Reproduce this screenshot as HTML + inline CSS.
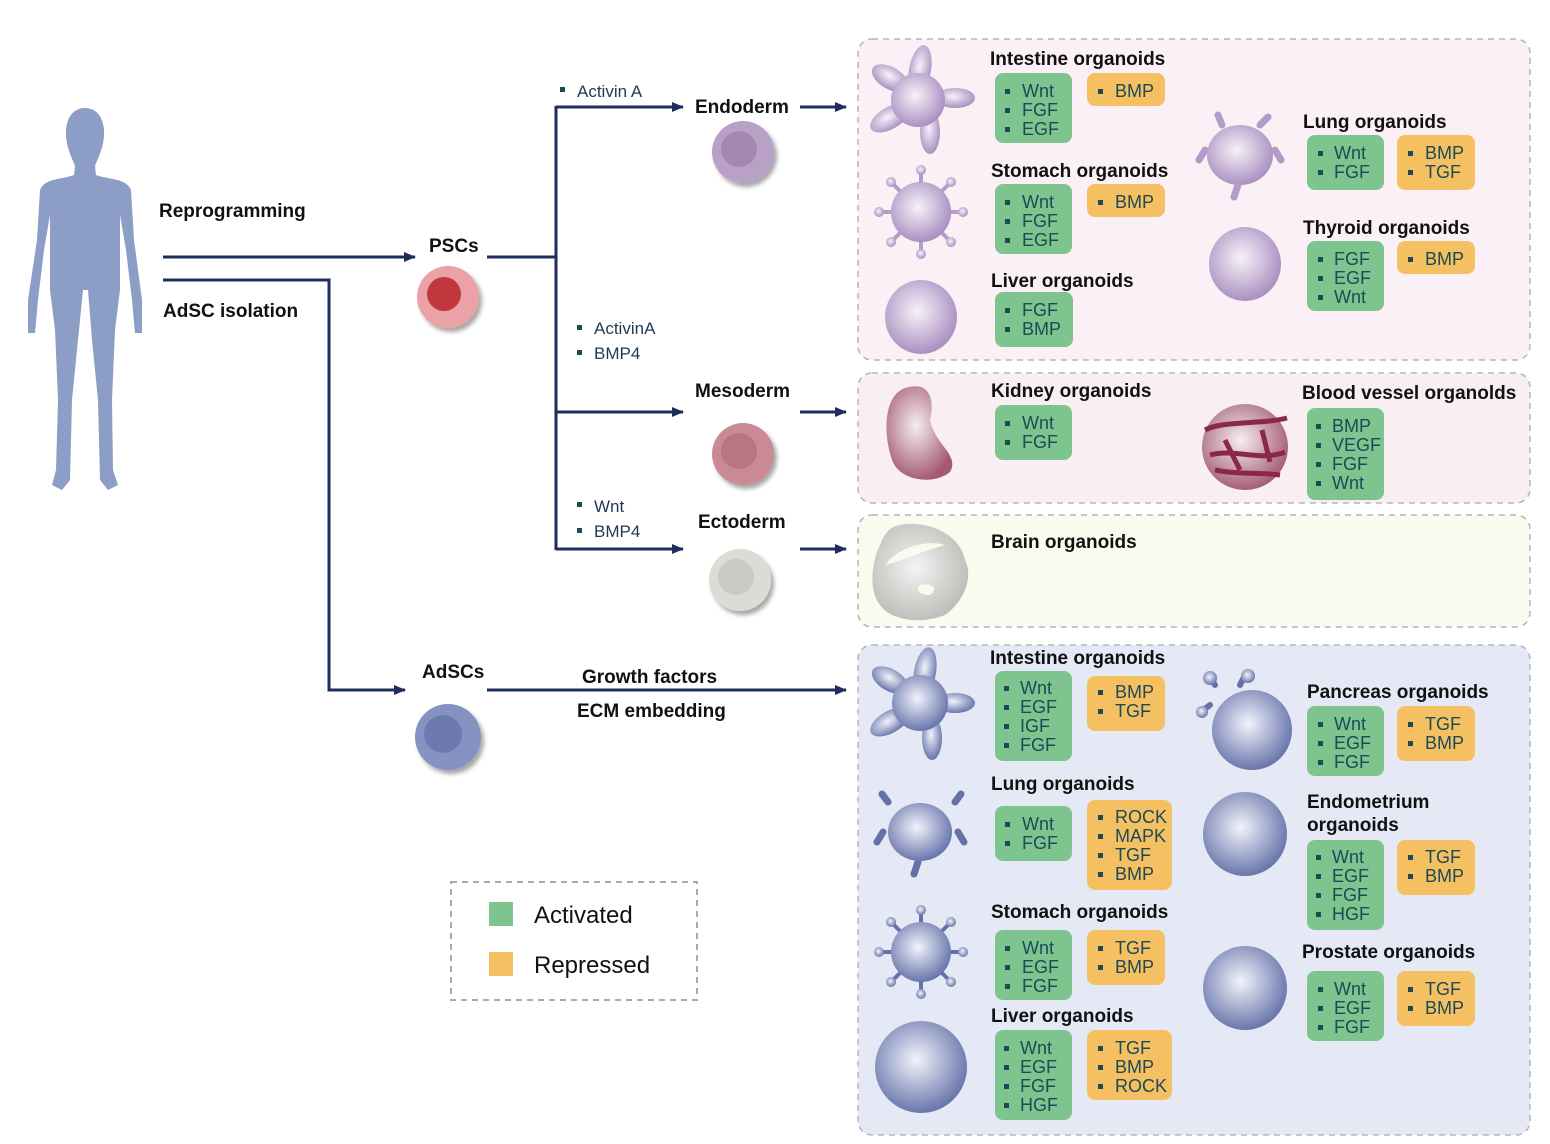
<!DOCTYPE html>
<html><head><meta charset="utf-8"><style>
html,body{margin:0;padding:0;background:#fff}
svg{display:block}
.t{font-family:"Liberation Sans",sans-serif;font-weight:bold;font-size:19px;fill:#111}
.i{font-family:"Liberation Sans",sans-serif;font-size:18px;fill:#1d4a55}
.f{font-family:"Liberation Sans",sans-serif;font-size:17px;fill:#1d3a55}
.g{fill:#7ec48f}.o{fill:#f5c062}
.sq{fill:#1d4a55}
</style></head><body>
<svg width="1550" height="1144" viewBox="0 0 1550 1144" xmlns="http://www.w3.org/2000/svg">
<defs>
<radialGradient id="pu" cx="0.45" cy="0.42" r="0.6"><stop offset="0" stop-color="#f7f2fa"/><stop offset="1" stop-color="#a88cbe"/></radialGradient>
<radialGradient id="bl" cx="0.45" cy="0.42" r="0.6"><stop offset="0" stop-color="#f2f3fb"/><stop offset="1" stop-color="#6472a8"/></radialGradient>
<radialGradient id="rd" cx="0.45" cy="0.42" r="0.6"><stop offset="0" stop-color="#f6eef0"/><stop offset="1" stop-color="#a35a72"/></radialGradient>
<radialGradient id="gr" cx="0.45" cy="0.45" r="0.6"><stop offset="0" stop-color="#f4f5f3"/><stop offset="1" stop-color="#b9bbb6"/></radialGradient>
<marker id="ar" markerWidth="12" markerHeight="10" refX="11" refY="5" orient="auto" markerUnits="userSpaceOnUse"><path d="M0,0 L12,5 L0,10 Z" fill="#1f2d5c"/></marker>
<filter id="sh"><feDropShadow dx="3" dy="4" stdDeviation="2" flood-opacity="0.35"/></filter>
</defs>

<!-- panels -->
<rect x="858" y="39" width="672" height="321" rx="14" fill="#fbf0f6" stroke="#b5b5b5" stroke-width="1.5" stroke-dasharray="6,5"/>
<rect x="858" y="373" width="672" height="130" rx="14" fill="#f9eef1" stroke="#b5b5b5" stroke-width="1.5" stroke-dasharray="6,5"/>
<rect x="858" y="515" width="672" height="112" rx="14" fill="#fbfaef" stroke="#b5b5b5" stroke-width="1.5" stroke-dasharray="6,5"/>
<rect x="858" y="645" width="672" height="490" rx="14" fill="#e5e9f5" stroke="#b5b5b5" stroke-width="1.5" stroke-dasharray="6,5"/>

<!-- human -->
<path fill="#8c9dc6" d="M85,108 C72,108 65,120 66,136 C67,150 73,160 75,166 L74,175 C60,180 45,178 40,190 L37,240 L28,300 L28,333 L35,333 L38,300 L44,250 L50,215 L50,290 L55,330 L58,400 L56,470 L52,485 L62,490 L70,480 L72,400 L78,340 L83,290 L88,290 L92,340 L98,400 L100,480 L108,490 L118,485 L113,470 L112,400 L115,330 L120,290 L120,215 L126,250 L132,300 L135,333 L142,333 L142,300 L134,240 L131,190 C126,178 110,180 96,175 L95,166 C97,160 103,150 104,136 C105,120 98,108 85,108 Z"/>

<!-- connectors -->
<g stroke="#1f2d5c" stroke-width="3" fill="none">
<line x1="163" y1="257" x2="415" y2="257" marker-end="url(#ar)"/>
<polyline points="163,280 329,280 329,690 405,690" marker-end="url(#ar)"/>
<polyline points="487,257 556,257"/>
<line x1="556" y1="106" x2="556" y2="550"/>
<line x1="556" y1="107" x2="683" y2="107" marker-end="url(#ar)"/>
<line x1="556" y1="412" x2="683" y2="412" marker-end="url(#ar)"/>
<line x1="556" y1="549" x2="683" y2="549" marker-end="url(#ar)"/>
<line x1="800" y1="107" x2="846" y2="107" marker-end="url(#ar)"/>
<line x1="800" y1="412" x2="846" y2="412" marker-end="url(#ar)"/>
<line x1="800" y1="549" x2="846" y2="549" marker-end="url(#ar)"/>
<line x1="487" y1="690" x2="846" y2="690" marker-end="url(#ar)"/>
</g>

<!-- left labels -->
<text class="t" x="159" y="217">Reprogramming</text>
<text class="t" x="163" y="317">AdSC isolation</text>
<text class="t" x="429" y="252">PSCs</text>
<text class="t" x="422" y="678">AdSCs</text>
<text class="t" x="695" y="113">Endoderm</text>
<text class="t" x="695" y="397">Mesoderm</text>
<text class="t" x="698" y="528">Ectoderm</text>
<text class="t" x="582" y="683">Growth factors</text>
<text class="t" x="577" y="717">ECM embedding</text>
<rect x="560" y="87" width="5" height="5" class="sq"/><text class="f" x="577" y="97">Activin A</text>
<rect x="577" y="325" width="5" height="5" class="sq"/><text class="f" x="594" y="334">ActivinA</text>
<rect x="577" y="350" width="5" height="5" class="sq"/><text class="f" x="594" y="359">BMP4</text>
<rect x="577" y="502" width="5" height="5" class="sq"/><text class="f" x="594" y="512">Wnt</text>
<rect x="577" y="528" width="5" height="5" class="sq"/><text class="f" x="594" y="537">BMP4</text>

<!-- stem cells -->
<g filter="url(#sh)">
<circle cx="448" cy="297" r="31" fill="#eaa2a6"/><circle cx="444" cy="294" r="17" fill="#c0383e"/>
<circle cx="743" cy="152" r="31" fill="#b9a0c6"/><circle cx="739" cy="149" r="18" fill="#a587b4"/>
<circle cx="743" cy="454" r="31" fill="#c98995"/><circle cx="739" cy="451" r="18" fill="#b87684"/>
<circle cx="740" cy="580" r="31" fill="#dcdcd6"/><circle cx="736" cy="577" r="18" fill="#cacac4"/>
<circle cx="448" cy="737" r="33" fill="#8592c2"/><circle cx="443" cy="734" r="19" fill="#6d7ab0"/>
</g>

<!-- organoid shapes pink -->
<g fill="url(#pu)">
<ellipse cx="920" cy="70" rx="11" ry="25" transform="rotate(10 920 70)"/>
<ellipse cx="955" cy="98" rx="20" ry="10"/>
<ellipse cx="930" cy="132" rx="10" ry="22"/>
<ellipse cx="890" cy="118" rx="22" ry="11" transform="rotate(-30 890 118)"/>
<ellipse cx="890" cy="78" rx="20" ry="11" transform="rotate(30 890 78)"/>
<circle cx="918" cy="100" r="27"/>
<circle cx="921" cy="212" r="30"/>
<g stroke="#b49cc8" stroke-width="4"><line x1="921" y1="170" x2="921" y2="254"/><line x1="879" y1="212" x2="963" y2="212"/><line x1="891" y1="182" x2="951" y2="242"/><line x1="951" y1="182" x2="891" y2="242"/></g>
<circle cx="921" cy="212" r="30"/>
<circle cx="921" cy="170" r="5"/><circle cx="921" cy="254" r="5"/><circle cx="879" cy="212" r="5"/><circle cx="963" cy="212" r="5"/><circle cx="891" cy="182" r="5"/><circle cx="951" cy="182" r="5"/><circle cx="891" cy="242" r="5"/><circle cx="951" cy="242" r="5"/>
<ellipse cx="921" cy="317" rx="36" ry="37"/>
<ellipse cx="1240" cy="155" rx="33" ry="30"/>
<path d="M1205,150 l-6,10 M1275,150 l6,10 M1222,125 l-4,-10 M1260,125 l8,-8 M1238,185 l-4,12" stroke="#b49cc8" stroke-width="7" stroke-linecap="round"/>
<ellipse cx="1245" cy="264" rx="36" ry="37"/>
</g>
<!-- mesoderm shapes -->
<path d="M905,388 C930,380 935,400 930,420 C935,445 960,455 950,472 C935,485 900,482 892,460 C882,430 885,395 905,388 Z" fill="url(#rd)"/>
<circle cx="1245" cy="447" r="43" fill="url(#rd)"/>
<g stroke="#8a2848" stroke-width="5" fill="none"><path d="M1205,430 C1225,420 1260,425 1287,418 M1210,455 C1235,448 1260,462 1285,452 M1225,440 L1240,470 M1262,430 L1270,462 M1215,470 C1240,475 1260,472 1280,475"/></g>
<!-- brain -->
<path d="M900,525 C930,520 960,535 965,560 C975,580 960,605 945,615 C920,625 890,620 880,605 C868,590 872,560 880,545 C885,532 890,527 900,525 Z" fill="url(#gr)"/>
<path d="M885,565 C900,545 930,540 945,545 C925,550 905,560 885,565 Z M920,585 C930,582 940,588 930,595 C920,595 915,590 920,585 Z" fill="#fbfaef"/>

<!-- blue organoids -->
<g fill="url(#bl)">
<ellipse cx="925" cy="672" rx="11" ry="25" transform="rotate(10 925 672)"/>
<ellipse cx="955" cy="703" rx="20" ry="10"/>
<ellipse cx="932" cy="738" rx="10" ry="22"/>
<ellipse cx="890" cy="722" rx="22" ry="11" transform="rotate(-30 890 722)"/>
<ellipse cx="890" cy="680" rx="20" ry="11" transform="rotate(30 890 680)"/>
<circle cx="920" cy="703" r="28"/>
<path d="M888,802 l-6,-8 M955,802 l6,-8 M883,832 l-6,10 M958,832 l6,10 M918,862 l-4,12" stroke="#6472a8" stroke-width="7" stroke-linecap="round"/>
<ellipse cx="920" cy="832" rx="32" ry="29"/>
<g stroke="#6472a8" stroke-width="4"><line x1="921" y1="910" x2="921" y2="994"/><line x1="879" y1="952" x2="963" y2="952"/><line x1="891" y1="922" x2="951" y2="982"/><line x1="951" y1="922" x2="891" y2="982"/></g>
<circle cx="921" cy="952" r="30"/>
<circle cx="921" cy="910" r="5"/><circle cx="921" cy="994" r="5"/><circle cx="879" cy="952" r="5"/><circle cx="963" cy="952" r="5"/><circle cx="891" cy="922" r="5"/><circle cx="951" cy="922" r="5"/><circle cx="891" cy="982" r="5"/><circle cx="951" cy="982" r="5"/>
<ellipse cx="921" cy="1067" rx="46" ry="46"/>
<path d="M1215,685 l-5,-8 M1240,685 l5,-10 M1210,705 l-8,6" stroke="#6472a8" stroke-width="6" stroke-linecap="round"/>
<circle cx="1210" cy="678" r="7"/><circle cx="1248" cy="676" r="7"/><circle cx="1202" cy="712" r="6"/>
<circle cx="1252" cy="730" r="40"/>
<circle cx="1245" cy="834" r="42"/>
<circle cx="1245" cy="988" r="42"/>
</g>

<!-- titles -->
<text class="t" x="990" y="65">Intestine organoids</text>
<text class="t" x="991" y="177">Stomach organoids</text>
<text class="t" x="991" y="287">Liver organoids</text>
<text class="t" x="1303" y="128">Lung organoids</text>
<text class="t" x="1303" y="234">Thyroid organoids</text>
<text class="t" x="991" y="397">Kidney organoids</text>
<text class="t" x="1302" y="399">Blood vessel organolds</text>
<text class="t" x="991" y="548">Brain organoids</text>
<text class="t" x="990" y="664">Intestine organoids</text>
<text class="t" x="1307" y="698">Pancreas organoids</text>
<text class="t" x="991" y="790">Lung organoids</text>
<text class="t" x="1307" y="808">Endometrium</text>
<text class="t" x="1307" y="831">organoids</text>
<text class="t" x="991" y="918">Stomach organoids</text>
<text class="t" x="1302" y="958">Prostate organoids</text>
<text class="t" x="991" y="1022">Liver organoids</text>

<!-- boxes -->
<g id="boxes">
<!-- pink -->
<rect class="g" x="995" y="73" width="77" height="70" rx="8"/>
<rect class="sq" x="1005" y="89" width="5" height="5"/><text class="i" x="1022" y="97">Wnt</text>
<rect class="sq" x="1005" y="108" width="5" height="5"/><text class="i" x="1022" y="116">FGF</text>
<rect class="sq" x="1005" y="127" width="5" height="5"/><text class="i" x="1022" y="135">EGF</text>
<rect class="o" x="1087" y="73" width="78" height="33" rx="8"/>
<rect class="sq" x="1098" y="89" width="5" height="5"/><text class="i" x="1115" y="97">BMP</text>

<rect class="g" x="995" y="184" width="77" height="70" rx="8"/>
<rect class="sq" x="1005" y="200" width="5" height="5"/><text class="i" x="1022" y="208">Wnt</text>
<rect class="sq" x="1005" y="219" width="5" height="5"/><text class="i" x="1022" y="227">FGF</text>
<rect class="sq" x="1005" y="238" width="5" height="5"/><text class="i" x="1022" y="246">EGF</text>
<rect class="o" x="1087" y="184" width="78" height="33" rx="8"/>
<rect class="sq" x="1098" y="200" width="5" height="5"/><text class="i" x="1115" y="208">BMP</text>

<rect class="g" x="995" y="292" width="78" height="55" rx="8"/>
<rect class="sq" x="1005" y="308" width="5" height="5"/><text class="i" x="1022" y="316">FGF</text>
<rect class="sq" x="1005" y="327" width="5" height="5"/><text class="i" x="1022" y="335">BMP</text>

<rect class="g" x="1307" y="135" width="77" height="55" rx="8"/>
<rect class="sq" x="1318" y="151" width="5" height="5"/><text class="i" x="1334" y="159">Wnt</text>
<rect class="sq" x="1318" y="170" width="5" height="5"/><text class="i" x="1334" y="178">FGF</text>
<rect class="o" x="1397" y="135" width="78" height="55" rx="8"/>
<rect class="sq" x="1408" y="151" width="5" height="5"/><text class="i" x="1425" y="159">BMP</text>
<rect class="sq" x="1408" y="170" width="5" height="5"/><text class="i" x="1425" y="178">TGF</text>

<rect class="g" x="1307" y="241" width="77" height="70" rx="8"/>
<rect class="sq" x="1318" y="257" width="5" height="5"/><text class="i" x="1334" y="265">FGF</text>
<rect class="sq" x="1318" y="276" width="5" height="5"/><text class="i" x="1334" y="284">EGF</text>
<rect class="sq" x="1318" y="295" width="5" height="5"/><text class="i" x="1334" y="303">Wnt</text>
<rect class="o" x="1397" y="241" width="78" height="33" rx="8"/>
<rect class="sq" x="1408" y="257" width="5" height="5"/><text class="i" x="1425" y="265">BMP</text>

<!-- meso -->
<rect class="g" x="995" y="405" width="77" height="55" rx="8"/>
<rect class="sq" x="1005" y="421" width="5" height="5"/><text class="i" x="1022" y="429">Wnt</text>
<rect class="sq" x="1005" y="440" width="5" height="5"/><text class="i" x="1022" y="448">FGF</text>
<rect class="g" x="1307" y="408" width="77" height="92" rx="8"/>
<rect class="sq" x="1316" y="424" width="5" height="5"/><text class="i" x="1332" y="432">BMP</text>
<rect class="sq" x="1316" y="443" width="5" height="5"/><text class="i" x="1332" y="451">VEGF</text>
<rect class="sq" x="1316" y="462" width="5" height="5"/><text class="i" x="1332" y="470">FGF</text>
<rect class="sq" x="1316" y="481" width="5" height="5"/><text class="i" x="1332" y="489">Wnt</text>

<!-- blue -->
<rect class="g" x="995" y="671" width="77" height="90" rx="8"/>
<rect class="sq" x="1004" y="686" width="5" height="5"/><text class="i" x="1020" y="694">Wnt</text>
<rect class="sq" x="1004" y="705" width="5" height="5"/><text class="i" x="1020" y="713">EGF</text>
<rect class="sq" x="1004" y="724" width="5" height="5"/><text class="i" x="1020" y="732">IGF</text>
<rect class="sq" x="1004" y="743" width="5" height="5"/><text class="i" x="1020" y="751">FGF</text>
<rect class="o" x="1087" y="676" width="78" height="55" rx="8"/>
<rect class="sq" x="1098" y="690" width="5" height="5"/><text class="i" x="1115" y="698">BMP</text>
<rect class="sq" x="1098" y="709" width="5" height="5"/><text class="i" x="1115" y="717">TGF</text>

<rect class="g" x="1307" y="706" width="77" height="70" rx="8"/>
<rect class="sq" x="1318" y="722" width="5" height="5"/><text class="i" x="1334" y="730">Wnt</text>
<rect class="sq" x="1318" y="741" width="5" height="5"/><text class="i" x="1334" y="749">EGF</text>
<rect class="sq" x="1318" y="760" width="5" height="5"/><text class="i" x="1334" y="768">FGF</text>
<rect class="o" x="1397" y="706" width="78" height="55" rx="8"/>
<rect class="sq" x="1408" y="722" width="5" height="5"/><text class="i" x="1425" y="730">TGF</text>
<rect class="sq" x="1408" y="741" width="5" height="5"/><text class="i" x="1425" y="749">BMP</text>

<rect class="g" x="995" y="806" width="77" height="55" rx="8"/>
<rect class="sq" x="1005" y="822" width="5" height="5"/><text class="i" x="1022" y="830">Wnt</text>
<rect class="sq" x="1005" y="841" width="5" height="5"/><text class="i" x="1022" y="849">FGF</text>
<rect class="o" x="1087" y="800" width="85" height="90" rx="8"/>
<rect class="sq" x="1098" y="815" width="5" height="5"/><text class="i" x="1115" y="823">ROCK</text>
<rect class="sq" x="1098" y="834" width="5" height="5"/><text class="i" x="1115" y="842">MAPK</text>
<rect class="sq" x="1098" y="853" width="5" height="5"/><text class="i" x="1115" y="861">TGF</text>
<rect class="sq" x="1098" y="872" width="5" height="5"/><text class="i" x="1115" y="880">BMP</text>

<rect class="g" x="1307" y="840" width="77" height="90" rx="8"/>
<rect class="sq" x="1316" y="855" width="5" height="5"/><text class="i" x="1332" y="863">Wnt</text>
<rect class="sq" x="1316" y="874" width="5" height="5"/><text class="i" x="1332" y="882">EGF</text>
<rect class="sq" x="1316" y="893" width="5" height="5"/><text class="i" x="1332" y="901">FGF</text>
<rect class="sq" x="1316" y="912" width="5" height="5"/><text class="i" x="1332" y="920">HGF</text>
<rect class="o" x="1397" y="840" width="78" height="55" rx="8"/>
<rect class="sq" x="1408" y="855" width="5" height="5"/><text class="i" x="1425" y="863">TGF</text>
<rect class="sq" x="1408" y="874" width="5" height="5"/><text class="i" x="1425" y="882">BMP</text>

<rect class="g" x="995" y="930" width="77" height="70" rx="8"/>
<rect class="sq" x="1005" y="946" width="5" height="5"/><text class="i" x="1022" y="954">Wnt</text>
<rect class="sq" x="1005" y="965" width="5" height="5"/><text class="i" x="1022" y="973">EGF</text>
<rect class="sq" x="1005" y="984" width="5" height="5"/><text class="i" x="1022" y="992">FGF</text>
<rect class="o" x="1087" y="930" width="78" height="55" rx="8"/>
<rect class="sq" x="1098" y="946" width="5" height="5"/><text class="i" x="1115" y="954">TGF</text>
<rect class="sq" x="1098" y="965" width="5" height="5"/><text class="i" x="1115" y="973">BMP</text>

<rect class="g" x="1307" y="971" width="77" height="70" rx="8"/>
<rect class="sq" x="1318" y="987" width="5" height="5"/><text class="i" x="1334" y="995">Wnt</text>
<rect class="sq" x="1318" y="1006" width="5" height="5"/><text class="i" x="1334" y="1014">EGF</text>
<rect class="sq" x="1318" y="1025" width="5" height="5"/><text class="i" x="1334" y="1033">FGF</text>
<rect class="o" x="1397" y="971" width="78" height="55" rx="8"/>
<rect class="sq" x="1408" y="987" width="5" height="5"/><text class="i" x="1425" y="995">TGF</text>
<rect class="sq" x="1408" y="1006" width="5" height="5"/><text class="i" x="1425" y="1014">BMP</text>

<rect class="g" x="995" y="1030" width="77" height="90" rx="8"/>
<rect class="sq" x="1004" y="1046" width="5" height="5"/><text class="i" x="1020" y="1054">Wnt</text>
<rect class="sq" x="1004" y="1065" width="5" height="5"/><text class="i" x="1020" y="1073">EGF</text>
<rect class="sq" x="1004" y="1084" width="5" height="5"/><text class="i" x="1020" y="1092">FGF</text>
<rect class="sq" x="1004" y="1103" width="5" height="5"/><text class="i" x="1020" y="1111">HGF</text>
<rect class="o" x="1087" y="1030" width="85" height="70" rx="8"/>
<rect class="sq" x="1098" y="1046" width="5" height="5"/><text class="i" x="1115" y="1054">TGF</text>
<rect class="sq" x="1098" y="1065" width="5" height="5"/><text class="i" x="1115" y="1073">BMP</text>
<rect class="sq" x="1098" y="1084" width="5" height="5"/><text class="i" x="1115" y="1092">ROCK</text>
</g>

<!-- legend -->
<rect x="451" y="882" width="246" height="118" fill="#fff" stroke="#aaa" stroke-width="2" stroke-dasharray="6,5"/>
<rect x="489" y="902" width="24" height="24" class="g"/>
<rect x="489" y="952" width="24" height="24" class="o"/>
<text x="534" y="923" style="font-family:'Liberation Sans',sans-serif;font-size:24px;fill:#111">Activated</text>
<text x="534" y="973" style="font-family:'Liberation Sans',sans-serif;font-size:24px;fill:#111">Repressed</text>
</svg>
</body></html>
